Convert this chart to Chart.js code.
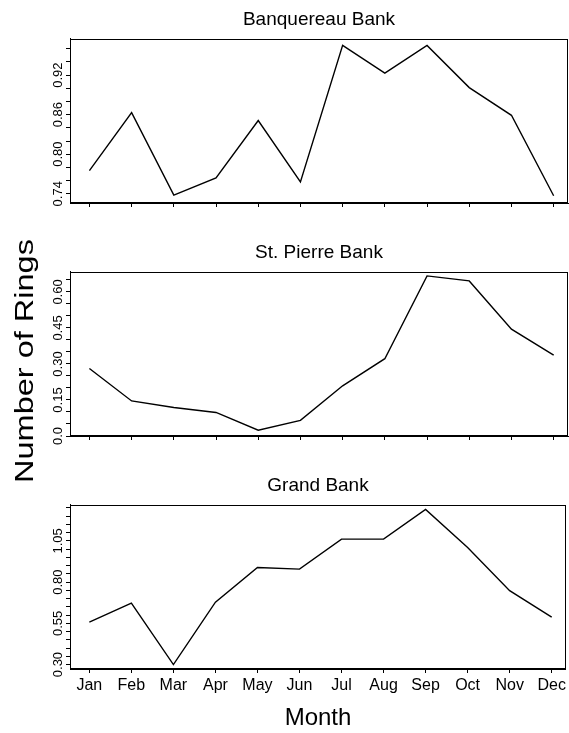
<!DOCTYPE html>
<html>
<head>
<meta charset="utf-8">
<script src="https://cdn.jsdelivr.net/npm/chart.js@4/dist/chart.umd.min.js"></script>
<style>
html,body{margin:0;padding:0;background:#fff;}
#wrap{position:relative;width:569px;height:733px;overflow:hidden;background:#fff;font-family:"Liberation Sans",Arial,Helvetica,sans-serif;}
.pc{position:absolute;left:0;width:569px;}
#ytitle{position:absolute;left:-126px;top:346px;width:300px;height:30px;line-height:30px;text-align:center;font-size:25px;color:#000;transform:rotate(-90deg) scaleX(1.3);white-space:nowrap;}
</style>
</head>
<body>
<div id="wrap">
  <div class="pc" style="top:0;height:215px"><canvas id="c1" width="569" height="215"></canvas></div>
  <div class="pc" style="top:233px;height:215px"><canvas id="c2" width="569" height="215"></canvas></div>
  <div class="pc" style="top:466px;height:267px"><canvas id="c3" width="569" height="267"></canvas></div>
  <div id="ytitle">Number of Rings</div>
</div>
<script>
// ---- data ----
const months = ['Jan','Feb','Mar','Apr','May','Jun','Jul','Aug','Sep','Oct','Nov','Dec'];

const banquereauTitle = 'Banquereau Bank';
const banquereau = [0.775, 0.863, 0.738, 0.764, 0.851, 0.758, 0.965, 0.923, 0.965, 0.901, 0.859, 0.737];
const banquereauTicks = ['0.74', '0.80', '0.86', '0.92'];

const stPierreTitle = 'St. Pierre Bank';
const stPierre = [0.281, 0.146, 0.119, 0.098, 0.024, 0.065, 0.209, 0.322, 0.667, 0.646, 0.445, 0.337];
const stPierreTicks = ['0.0', '0.15', '0.30', '0.45', '0.60'];

const grandTitle = 'Grand Bank';
const grandBank = [0.558, 0.672, 0.300, 0.678, 0.889, 0.879, 1.061, 1.061, 1.241, 1.010, 0.748, 0.588];
const grandTicks = ['0.30', '0.55', '0.80', '1.05'];

const yAxisTitle = 'Number of Rings';
const xAxisTitle = 'Month';

// ---- chart builder ----
const FONT = '"Liberation Sans", Arial, Helvetica, sans-serif';
const boxPlugin = {
  id: 'box',
  afterDatasetsDraw(chart) {
    const a = chart.chartArea, ctx = chart.ctx;
    ctx.save();
    ctx.strokeStyle = '#000';
    ctx.lineWidth = 1;
    ctx.strokeRect(Math.round(a.left) + 0.5, Math.round(a.top) + 0.5,
                   Math.round(a.right - a.left) - 1, Math.round(a.bottom - a.top) - 1);
    ctx.restore();
  }
};

function makeChart(id, title, values, tickLabels, minorStep, yMin, yMax, xAxisH, showX) {
  const majors = tickLabels.map(Number);
  const allTicks = [];
  const start = Math.ceil(yMin / minorStep - 1e-6);
  const end = Math.floor(yMax / minorStep + 1e-6);
  for (let k = start; k <= end; k++) allTicks.push(Math.round(k * minorStep * 1000) / 1000);
  const labelFor = v => {
    const idx = majors.findIndex(m => Math.abs(m - v) < 1e-6);
    return idx >= 0 ? tickLabels[idx] : '';
  };
  return new Chart(document.getElementById(id), {
    type: 'line',
    data: {
      datasets: [{
        data: values.map((v, i) => ({ x: i, y: v })),
        borderColor: '#000',
        borderWidth: 1.4,
        pointRadius: 0,
        tension: 0,
        fill: false
      }]
    },
    options: {
      responsive: false,
      animation: false,
      layout: { padding: { right: 1, left: 0, top: 0, bottom: 0 } },
      plugins: {
        legend: { display: false },
        tooltip: { enabled: false },
        title: {
          display: true, text: title, fullSize: false, color: '#000',
          font: { family: FONT, size: 19, weight: 'normal', lineHeight: 1.2 },
          padding: { top: 8, bottom: 8 }
        }
      },
      scales: {
        x: {
          type: 'linear', min: -0.46, max: 11.34,
          afterBuildTicks: s => { s.ticks = months.map((m, i) => ({ value: i })); },
          afterFit: s => { s.height = xAxisH; },
          grid: { display: true, drawOnChartArea: false, drawTicks: true, tickLength: 4, color: '#000', lineWidth: 1 },
          border: { display: true, color: '#000', width: 1 },
          ticks: {
            color: '#000', padding: 3, maxRotation: 0, minRotation: 0, autoSkip: false,
            font: { family: FONT, size: 16 },
            callback: v => showX ? months[v] : ''
          },
          title: showX ? {
            display: true, text: xAxisTitle, color: '#000',
            font: { family: FONT, size: 24, lineHeight: 1.2 },
            padding: { top: 0, bottom: 0 }
          } : { display: false }
        },
        y: {
          type: 'linear', min: yMin, max: yMax,
          afterBuildTicks: s => { s.ticks = allTicks.map(v => ({ value: v })); },
          afterFit: s => { s.width = 70; },
          grid: { display: true, drawOnChartArea: false, drawTicks: true, tickLength: 4, color: '#000', lineWidth: 1 },
          border: { display: true, color: '#000', width: 1 },
          ticks: {
            color: '#000', padding: -5.5, minRotation: 90, maxRotation: 90, crossAlign: 'center', autoSkip: false,
            font: { family: FONT, size: 13 },
            callback: v => labelFor(v)
          }
        }
      }
    },
    plugins: [boxPlugin]
  });
}

makeChart('c1', banquereauTitle, banquereau, banquereauTicks, 0.02, 0.726, 0.975, 12, false);
makeChart('c2', stPierreTitle, stPierre, stPierreTicks, 0.05, 0.0, 0.684, 12, false);
makeChart('c3', grandTitle, grandBank, grandTicks, 0.05, 0.273, 1.269, 64, true);
document.getElementById('ytitle').textContent = yAxisTitle;
</script>
</body>
</html>
